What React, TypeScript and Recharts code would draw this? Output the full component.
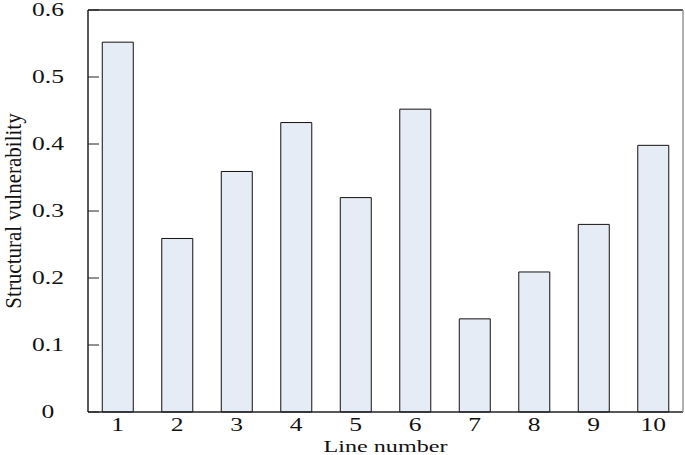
import { Bar, BarChart, ReferenceLine, XAxis, YAxis } from "recharts";

const lineNumbers = ["1", "2", "3", "4", "5", "6", "7", "8", "9", "10"];
const vulnerability = [0.552, 0.259, 0.359, 0.432, 0.32, 0.452, 0.139, 0.209, 0.28, 0.398];
const yTicks = [0, 0.1, 0.2, 0.3, 0.4, 0.5, 0.6];

const data = lineNumbers.map((line, i) => ({ line, value: vulnerability[i] }));

const FONT = "'Liberation Serif', 'Times New Roman', serif";
const STRETCH = 1.42;

function YTick(props: any) {
  const { y, payload } = props;
  return (
    <g>
      <line x1={88} x2={99} y1={y} y2={y} stroke="#222" strokeWidth={1} />
      <text
        transform={`translate(48,${y + 6}) scale(${STRETCH},1)`}
        textAnchor="middle"
        fontFamily={FONT}
        fontSize={18}
        fill="#111"
      >
        {String(payload.value)}
      </text>
    </g>
  );
}

function XTick(props: any) {
  const { x, payload } = props;
  return (
    <text
      transform={`translate(${x},431) scale(${STRETCH},1)`}
      textAnchor="middle"
      fontFamily={FONT}
      fontSize={18}
      fill="#111"
    >
      {payload.value}
    </text>
  );
}

function XLabel(props: any) {
  const { viewBox } = props;
  const cx = viewBox.x + viewBox.width / 2;
  return (
    <text
      transform={`translate(${cx},452) scale(${STRETCH},1)`}
      textAnchor="middle"
      fontFamily={FONT}
      fontSize={17}
      fill="#111"
    >
      Line number
    </text>
  );
}

function YLabel(props: any) {
  const { viewBox } = props;
  const cy = viewBox.y + viewBox.height / 2;
  return (
    <text
      transform={`translate(21,${cy}) scale(1.1,1) rotate(-90)`}
      textAnchor="middle"
      fontFamily={FONT}
      fontSize={21}
      fill="#111"
    >
      Structural vulnerability
    </text>
  );
}

export default function App() {
  return (
    <div style={{ position: "absolute", left: 0, top: 0, background: "#fff" }}>
      <BarChart
        width={685}
        height={455}
        data={data}
        margin={{ top: 10, right: 0, bottom: 0, left: 0 }}
        barCategoryGap="24%"
      >
        <XAxis
          dataKey="line"
          height={43}
          tickLine={false}
          axisLine={{ stroke: "#222", strokeWidth: 1.5 }}
          tick={<XTick />}
          interval={0}
          label={{ content: <XLabel /> }}
        />
        <YAxis
          width={88}
          domain={[0, 0.6]}
          ticks={yTicks}
          tickLine={false}
          axisLine={{ stroke: "#222", strokeWidth: 1.5 }}
          tick={<YTick />}
          label={{ content: <YLabel /> }}
        />
        <YAxis
          yAxisId="frame"
          orientation="right"
          width={2}
          domain={[0, 1]}
          tick={false}
          tickLine={false}
          axisLine={{ stroke: "#999", strokeWidth: 1.5 }}
        />
        <ReferenceLine y={0.6} stroke="#222" strokeWidth={1.5} />
        <Bar
          dataKey="value"
          fill="#e6ecf6"
          stroke="#111"
          strokeWidth={1}
          isAnimationActive={false}
        />
      </BarChart>
    </div>
  );
}
